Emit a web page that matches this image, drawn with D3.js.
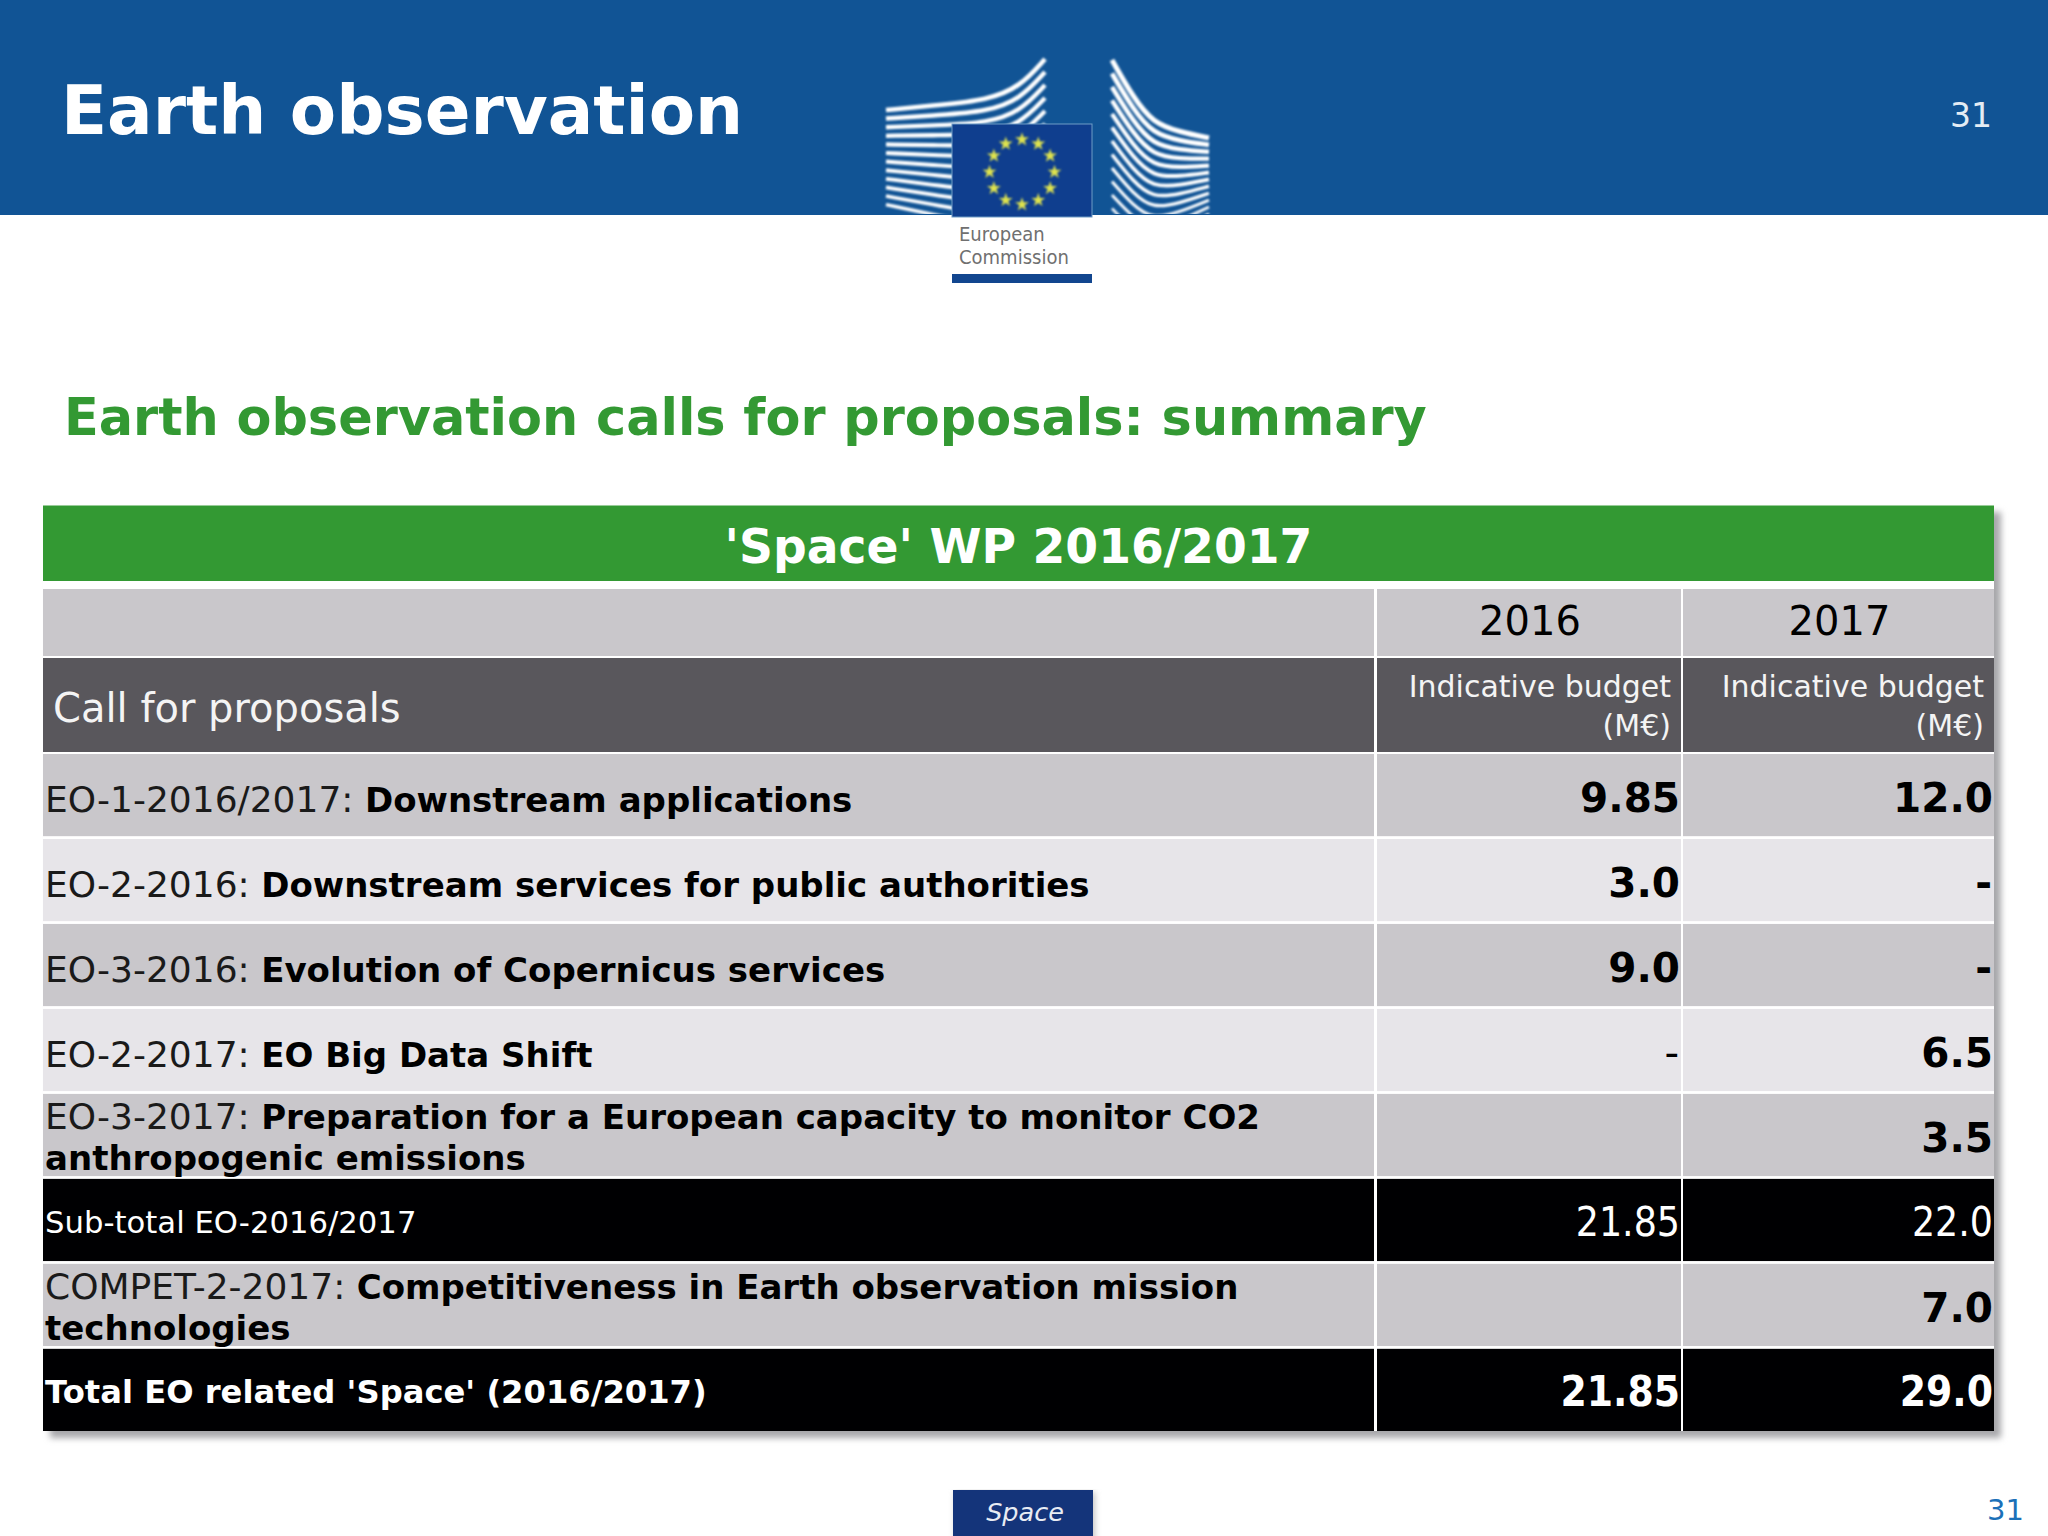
<!DOCTYPE html>
<html lang="en">
<head>
<meta charset="UTF-8">
<title>Earth observation calls for proposals: summary</title>
<script src="https://d3js.org/d3.v7.min.js"></script>
<style>
    body { margin: 0; background: #fff; }
    svg { display: block; }
    text { font-family: "DejaVu Sans", Verdana, sans-serif; }
    .cond { font-family: "DejaVu Sans Condensed", "DejaVu Sans", sans-serif; font-stretch: condensed; }
</style>
</head>
<body>
<div id="chartArea"></div>
<script>
var slideTitle = 'Earth observation';
var slideSubtitle = 'Earth observation calls for proposals: summary';
var tableTitle = "'Space' WP 2016/2017";
var pageNumber = '31';
var footerTab = 'Space';
var logoWords = ['European', 'Commission'];

var years = ['2016', '2017'];
var headerLabel = 'Call for proposals';
var budgetLabel = ['Indicative budget', '(M€)'];

var callCodes = ['EO-1-2016/2017: ', 'EO-2-2016: ', 'EO-3-2016: ', 'EO-2-2017: ', 'EO-3-2017: ', 'Sub-total EO-2016/2017', 'COMPET-2-2017: ', ''];
var callTitles = ['Downstream applications', 'Downstream services for public authorities', 'Evolution of Copernicus services', 'EO Big Data Shift', 'Preparation for a European capacity to monitor CO2', '', 'Competitiveness in Earth observation mission', "Total EO related 'Space' (2016/2017)"];
var callTitlesLine2 = ['', '', '', '', 'anthropogenic emissions', '', 'technologies', ''];
var budget2016 = ['9.85', '3.0', '9.0', '-', '', '21.85', '', '21.85'];
var budget2017 = ['12.0', '-', '-', '6.5', '3.5', '22.0', '7.0', '29.0'];
var rowKinds = ['dark', 'light', 'dark', 'light', 'dark', 'sub', 'dark', 'total'];

var W = 2048, H = 1536;
var rowFill = { dark: '#c9c7cb', light: '#e7e5e9', sub: '#000002', total: '#000002' };
var blue = '#115495', green = '#339933', slate = '#59575c';

var svg = d3.select('#chartArea').append('svg')
    .attr('width', W)
    .attr('height', H);

var defs = svg.append('defs');
defs.append('filter').attr('id', 'soft').attr('x', '-5%').attr('y', '-5%').attr('width', '110%').attr('height', '110%')
    .append('feGaussianBlur').attr('stdDeviation', 3);
defs.append('filter').attr('id', 'logoBlur')
    .append('feGaussianBlur').attr('stdDeviation', 0.8);

// banner
svg.append('rect').attr('width', W).attr('height', 215).attr('fill', blue);
svg.append('text').attr('x', 61).attr('y', 134)
    .attr('font-size', 67.5).attr('font-weight', 700).attr('fill', '#fff').text(slideTitle);
svg.append('text').attr('x', 1950).attr('y', 127)
    .attr('font-size', 33).attr('fill', '#e4ecf4').text(pageNumber);

// logo: building stripes, flag and wordmark
var logo = svg.append('g');
var stripes = logo.append('g').attr('filter', 'url(#logoBlur)');
var stripeLine = d3.line().curve(d3.curveBasis);
var clip = defs.append('clipPath').attr('id', 'bannerClip');
clip.append('rect').attr('width', W).attr('height', 214);
stripes.attr('clip-path', 'url(#bannerClip)');

var leftWing = [[886, 110], [940, 105], [987, 100], [1020, 87], [1045, 59]];
var rightWing = [[1112, 60], [1133, 97], [1153, 123], [1180, 132], [1209, 138]];
d3.range(12).forEach(function (i) {
    stripes.append('path')
        .attr('d', stripeLine(leftWing.map(function (p) {
            var t = (p[0] - 886) / 159;
            return [p[0], p[1] + i * (8.6 + 4.4 * t)];
        })))
        .attr('fill', 'none').attr('stroke', '#fff').attr('stroke-width', 4.6 - i * 0.1);
    stripes.append('path')
        .attr('d', stripeLine(rightWing.map(function (p) {
            var t = (p[0] - 1112) / 97;
            return [p[0], p[1] + i * (13.5 - 6.6 * t)];
        })))
        .attr('fill', 'none').attr('stroke', '#fff').attr('stroke-width', 5 - 2.6 * (i / 12));
});

logo.append('rect').attr('x', 952).attr('y', 124).attr('width', 140).attr('height', 93)
    .attr('fill', '#0f3e8e').attr('stroke', '#6f9cc6').attr('stroke-width', 1);
var starGroup = logo.append('g').attr('filter', 'url(#logoBlur)');
var star = d3.symbol().type(d3.symbolStar).size(60);
d3.range(12).forEach(function (i) {
    var a = i * Math.PI / 6;
    starGroup.append('path').attr('d', star)
        .attr('transform', 'translate(' + (1022 + 32.5 * Math.sin(a)) + ',' + (172 - 32.5 * Math.cos(a)) + ')')
        .attr('fill', '#dfe34e');
});
logoWords.forEach(function (w, i) {
    logo.append('text').attr('x', 959).attr('y', 241 + i * 23)
        .attr('font-size', 20).attr('fill', '#707070').attr('class', 'cond').text(w);
});
logo.append('rect').attr('x', 952).attr('y', 274).attr('width', 140).attr('height', 9).attr('fill', '#12468f');

// subtitle
svg.append('text').attr('x', 64).attr('y', 435)
    .attr('font-size', 50.9).attr('font-weight', 700).attr('fill', green).text(slideSubtitle);

// table
var colX = { left: 43, c1: 1377, c2: 1683, right: 1994 };
var columns = [
    { x0: colX.left, x1: colX.c1 - 3 },
    { x0: colX.c1, x1: colX.c2 - 2 },
    { x0: colX.c2, x1: colX.right }
];
var y = d3.scaleBand().domain(d3.range(callCodes.length)).range([754, 1431]).paddingInner(0.033);

svg.append('rect').attr('x', colX.left + 7).attr('y', 512).attr('width', colX.right - colX.left)
    .attr('height', 1431 - 505).attr('fill', '#a8a8ab').attr('filter', 'url(#soft)');
svg.append('rect').attr('x', colX.left).attr('y', 505).attr('width', colX.right - colX.left)
    .attr('height', 1431 - 505).attr('fill', '#fff');

svg.append('rect').attr('x', colX.left).attr('y', 505.5).attr('width', colX.right - colX.left).attr('height', 75.5).attr('fill', green);
svg.append('text').attr('x', (colX.left + colX.right) / 2).attr('y', 563)
    .attr('text-anchor', 'middle').attr('font-size', 47.2).attr('font-weight', 700).attr('fill', '#fff').text(tableTitle);

columns.forEach(function (c, i) {
    svg.append('rect').attr('x', c.x0).attr('y', 589).attr('width', c.x1 - c.x0).attr('height', 67).attr('fill', rowFill.dark);
    svg.append('rect').attr('x', c.x0).attr('y', 658).attr('width', c.x1 - c.x0).attr('height', 94).attr('fill', slate);
    if (i > 0) {
        svg.append('text').attr('x', (c.x0 + c.x1) / 2 + 1).attr('y', 635)
            .attr('text-anchor', 'middle').attr('font-size', 40).attr('fill', '#000').text(years[i - 1]);
        budgetLabel.forEach(function (t, k) {
            svg.append('text').attr('x', c.x1 - 10).attr('y', 697 + k * 39)
                .attr('text-anchor', 'end').attr('font-size', 30).attr('fill', '#f4f4f4').text(t);
        });
    }
});
svg.append('text').attr('x', 53).attr('y', 722).attr('font-size', 40).attr('fill', '#f4f4f4').text(headerLabel);

var rows = svg.selectAll('g.row')
    .data(callCodes.map(function (code, i) {
        return { code: code, title: callTitles[i], line2: callTitlesLine2[i], v16: budget2016[i], v17: budget2017[i], kind: rowKinds[i], i: i };
    }))
    .enter().append('g').attr('class', 'row')
    .attr('transform', function (d) { return 'translate(0,' + y(d.i) + ')'; });

columns.forEach(function (c) {
    rows.append('rect').attr('x', c.x0).attr('width', c.x1 - c.x0).attr('height', y.bandwidth())
        .attr('fill', function (d) { return rowFill[d.kind]; });
});

rows.each(function (d) {
    var g = d3.select(this);
    var bh = y.bandwidth();
    var black = d.kind === 'sub' || d.kind === 'total';
    var ink = black ? '#fff' : '#000';
    var twoLines = d.line2 !== '';

    var label = g.append('text').attr('x', 45).attr('y', twoLines ? 35 : bh / 2 + (black ? 13 : 16.5));
    label.append('tspan').attr('font-size', d.kind === 'sub' ? 30.7 : 36)
        .attr('fill', black ? '#fff' : '#1a1a1a').attr('xml:space', 'preserve').text(d.code);
    label.append('tspan').attr('font-size', d.kind === 'total' ? 32.2 : 34).attr('font-weight', 700).attr('fill', ink).text(d.title);
    if (twoLines) {
        g.append('text').attr('x', 45).attr('y', 76).attr('font-size', 34).attr('font-weight', 700).attr('fill', ink).text(d.line2);
    }

    [[d.v16, columns[1]], [d.v17, columns[2]]].forEach(function (v) {
        var isDash = v[0] === '-';
        var t = g.append('text').attr('x', v[1].x1 - (isDash ? 2 : 1)).attr('y', bh / 2 + (black ? 16 : 17))
            .attr('text-anchor', 'end').attr('fill', ink).text(v[0]);
        if (black) {
            t.attr('class', 'cond').attr('font-size', d.kind === 'total' ? 42 : 40.5).attr('font-weight', d.kind === 'total' ? 700 : 400);
        } else {
            t.attr('font-size', 40.5).attr('font-weight', (d.i === 3 && isDash && v[1] === columns[1]) ? 400 : 700);
        }
    });
});

// footer
svg.append('rect').attr('x', 955).attr('y', 1492).attr('width', 140).attr('height', 50).attr('fill', '#c4c4c4').attr('filter', 'url(#soft)');
svg.append('rect').attr('x', 953).attr('y', 1490).attr('width', 140).attr('height', 46).attr('fill', '#14347a');
svg.append('text').attr('x', 1025).attr('y', 1521).attr('text-anchor', 'middle')
    .attr('font-size', 25.5).attr('font-style', 'italic').attr('fill', '#e8ecf4').text(footerTab);
svg.append('text').attr('x', 1987).attr('y', 1520)
    .attr('font-size', 29).attr('fill', '#1b70b8').text(pageNumber);
</script>
</body>
</html>
